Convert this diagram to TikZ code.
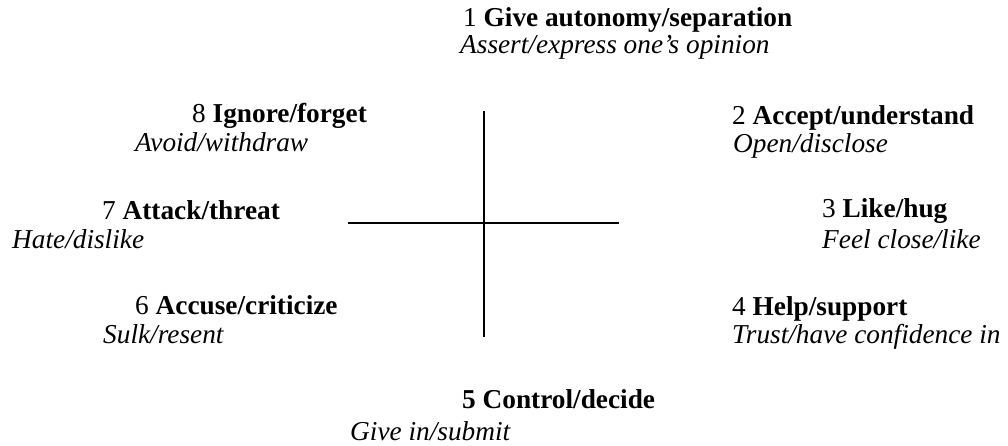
\documentclass[tikz,border=0pt]{standalone}
\usepackage{fontspec}
\setmainfont{Liberation Serif}
\begin{document}
\begin{tikzpicture}[x=1pt,y=-1pt,
  lbl/.style={anchor=base west,inner sep=0pt,font=\fontsize{27.3}{30}\selectfont},
  axis/.style={line width=2pt,black}]
\useasboundingbox (0,0) rectangle (1008,446);
\node[lbl] (t1) at (463,27) {1 \textbf{Give autonomy/separation}};
\node[lbl] (s1) at (460,54) {\textit{Assert/express one’s opinion}};
\node[lbl] (t2) at (732,125) {2 \textbf{Accept/understand}};
\node[lbl] (s2) at (733,153) {\textit{Open/disclose}};
\node[lbl] (t3) at (822,218) {3 \textbf{Like/hug}};
\node[lbl] (s3) at (822,248) {\textit{Feel close/like}};
\node[lbl] (t4) at (732,315) {4 \textbf{Help/support}};
\node[lbl] (s4) at (732,343) {\textit{Trust/have confidence in}};
\node[lbl] (t5) at (462,408) {\textbf{5 Control/decide}};
\node[lbl] (s5) at (350,440) {\textit{Give in/submit}};
\node[lbl] (t6) at (135,314) {6 \textbf{Accuse/criticize}};
\node[lbl] (s6) at (103,343) {\textit{Sulk/resent}};
\node[lbl] (t7) at (102,220) {7 \textbf{Attack/threat}};
\node[lbl] (s7) at (12,248) {\textit{Hate/dislike}};
\node[lbl] (t8) at (192,123) {8 \textbf{Ignore/forget}};
\node[lbl] (s8) at (135,152) {\textit{Avoid/withdraw}};
\coordinate (vtop) at (484,111);
\coordinate (vbot) at (484,337);
\coordinate (hl) at (348,223.5);
\coordinate (hr) at (619,223.5);
\draw[axis] (vtop) -- (vbot);
\draw[axis] (hl) -- (hr);
\end{tikzpicture}
\end{document}
